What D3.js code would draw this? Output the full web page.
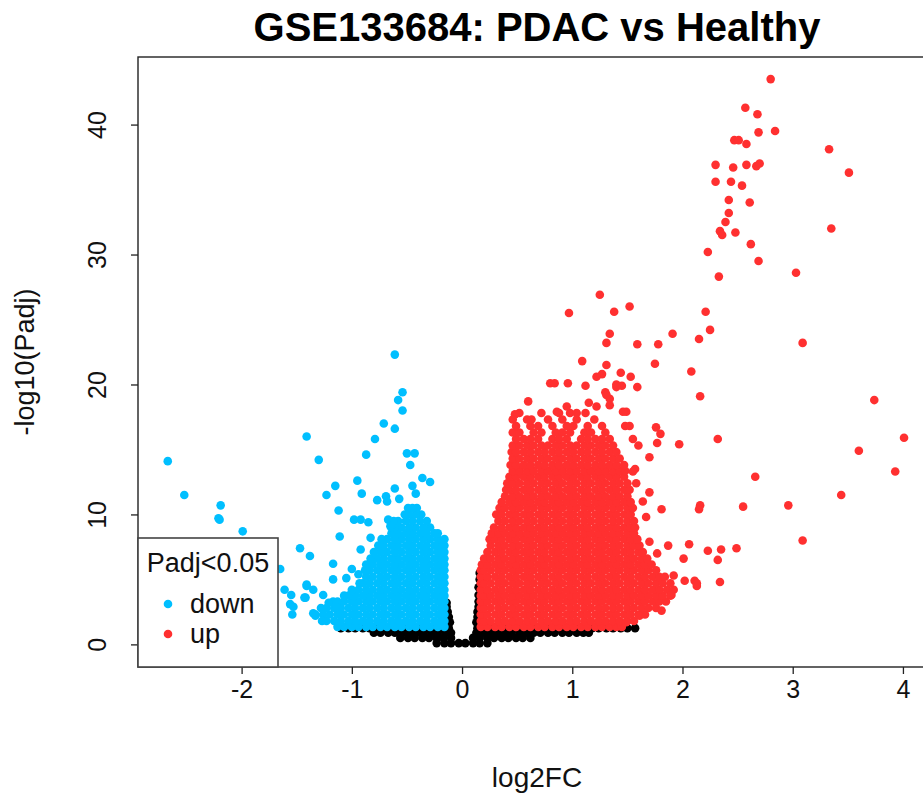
<!DOCTYPE html>
<html>
<head>
<meta charset="utf-8">
<script src="https://cdn.jsdelivr.net/npm/d3@7"></script>
<style>
  body { margin: 0; background: #fff; }
  svg { display: block; font-family: "Liberation Sans", Arial, Helvetica, sans-serif; }
</style>
</head>
<body>
<svg id="chart" width="923" height="800"></svg>
<script>
// ---- data ----
const title = "GSE133684: PDAC vs Healthy";
const xLabel = "log2FC";
const yLabel = "-log10(Padj)";
const xTicks = [-2, -1, 0, 1, 2, 3, 4];
const yTicks = [0, 10, 20, 30, 40];
const legendTitle = "Padj<0.05";
const legendItems = ["down", "up"];

// dense clouds: [ -log10(Padj), [log2FC in hundredths, ...] ]
const nsRows = [
  [0.1, [-23,-16,-10,-3,3,10,16,23]],
  [0.5, [-56,-49,-43,-36,-30,-23,-17,-10,10,16,23,29,36,42,49,55,62]],
  [0.9, [-80,-74,-67,-61,-54,-48,-41,-35,-28,-22,-15,-10,13,19,26,32,39,45,52,58,65,71,78,84,91,97,104,110,115]],
  [1.25, [-110,-103,-97,-90,-84,-77,-71,-64,-58,-51,-45,-38,-32,-25,-19,-12,14,20,27,33,40,46,53,59,66,72,79,85,92,98,105,111,118,124,131,137,144,150,157]]
];
// black genes on the arms of the V: [log2FC hundredths, -log10(Padj)]
const nsArms = [
  [-13,1.7],[-11,1.7],[-13,2.1],[-12,2.1],[-13,2.5],[-14,2.9],[-14,3.2],
  [13,1.7],[15,1.7],[14,2.1],[14,2.5],[15,2.9],[15,3.3],[15,3.8],[15,4.4],[16,5.0],[16,5.5]
];

const downRows = [
  [1.35, [-16,-22,-29,-35,-42,-48,-55,-61,-68,-74,-81,-87,-94,-100,-107,-113]],
  [1.8, [-16,-19,-25,-32,-38,-45,-51,-58,-64,-71,-77,-84,-90,-97,-103,-110,-116,-123]],
  [2.3, [-16,-22,-29,-35,-42,-48,-55,-61,-68,-74,-81,-87,-94,-100,-107,-113,-120,-126,-133]],
  [2.8, [-16,-19,-25,-32,-38,-45,-51,-58,-64,-71,-77,-84,-90,-97,-103,-110,-116,-123,-128]],
  [3.3, [-16,-22,-29,-35,-42,-48,-55,-61,-68,-74,-81,-87,-94,-100,-107,-113,-117]],
  [3.75, [-16,-19,-25,-32,-38,-45,-51,-58,-64,-71,-77,-84,-90,-97,-103,-107]],
  [4.2, [-16,-22,-29,-35,-42,-48,-55,-61,-68,-74,-81,-87,-94,-100]],
  [4.7, [-16,-19,-25,-32,-38,-45,-51,-58,-64,-71,-77,-84,-90,-93]],
  [5.2, [-16,-22,-29,-35,-42,-48,-55,-61,-68,-74,-81,-87]],
  [5.7, [-16,-19,-25,-32,-38,-45,-51,-58,-64,-71,-77,-84,-88]],
  [6.15, [-16,-22,-29,-35,-42,-48,-55,-61,-68,-74,-81,-87]],
  [6.6, [-16,-19,-25,-32,-38,-45,-51,-58,-64,-71,-77,-83]],
  [7.1, [-16,-22,-29,-35,-42,-48,-55,-61,-68,-74,-80]],
  [7.6, [-16,-19,-25,-32,-38,-45,-51,-58,-64,-71,-76]],
  [8.1, [-16,-22,-29,-35,-42,-48,-55,-61,-68,-73]],
  [8.55, [-22,-25,-32,-38,-45,-51,-58,-64]],
  [9.0, [-29,-35,-42,-48,-55,-61,-64]],
  [9.5, [-32,-38,-45,-51,-58,-62]],
  [10.0, [-37,-42,-48,-52]],
  [10.5, [-41,-45,-49]]
];

const upRows = [
  [1.35, [17,23,30,36,43,49,56,62,69,75,82,88,95,101,108,114,121,127,134,140,145]],
  [1.8, [17,20,26,33,39,46,52,59,65,72,78,85,91,98,104,111,117,124,130,137,143,150,156]],
  [2.3, [17,23,30,36,43,49,56,62,69,75,82,88,95,101,108,114,121,127,134,140,147,153,160,166]],
  [2.8, [17,20,26,33,39,46,52,59,65,72,78,85,91,98,104,111,117,124,130,137,143,150,156,163,169,176]],
  [3.3, [17,23,30,36,43,49,56,62,69,75,82,88,95,101,108,114,121,127,134,140,147,153,160,166,173,179,185]],
  [3.75, [17,20,26,33,39,46,52,59,65,72,78,85,91,98,104,111,117,124,130,137,143,150,156,163,169,176,182,189]],
  [4.2, [17,23,30,36,43,49,56,62,69,75,82,88,95,101,108,114,121,127,134,140,147,153,160,166,173,179,186,192]],
  [4.7, [17,20,26,33,39,46,52,59,65,72,78,85,91,98,104,111,117,124,130,137,143,150,156,163,169,176,182,189]],
  [5.2, [17,23,30,36,43,49,56,62,69,75,82,88,95,101,108,114,121,127,134,140,147,153,160,166,173,179,184]],
  [5.7, [17,20,26,33,39,46,52,59,65,72,78,85,91,98,104,111,117,124,130,137,143,150,156,163,169,176]],
  [6.15, [18,23,30,36,43,49,56,62,69,75,82,88,95,101,108,114,121,127,134,140,147,153,160,166,172]],
  [6.6, [20,26,33,39,46,52,59,65,72,78,85,91,98,104,111,117,124,130,137,143,150,156,163,168]],
  [7.1, [23,30,36,43,49,56,62,69,75,82,88,95,101,108,114,121,127,134,140,147,153,160,164]],
  [7.6, [26,33,39,46,52,59,65,72,78,85,91,98,104,111,117,124,130,137,143,150,156,161]],
  [8.1, [25,30,36,43,49,56,62,69,75,82,88,95,101,108,114,121,127,134,140,147,153,159]],
  [8.55, [27,33,39,46,52,59,65,72,78,85,91,98,104,111,117,124,130,137,143,150,156]],
  [9.0, [29,36,43,49,56,62,69,75,82,88,95,101,108,114,121,127,134,140,147,153,157]],
  [9.5, [33,39,46,52,59,65,72,78,85,91,98,104,111,117,124,130,137,143,150,156]],
  [10.0, [31,36,43,49,56,62,69,75,82,88,95,101,108,114,121,127,134,140,147,153]],
  [10.5, [34,39,46,52,59,65,72,78,85,91,98,104,111,117,124,130,137,143,150,155]],
  [10.95, [36,43,49,56,62,69,75,82,88,95,101,108,114,121,127,134,140,147,153]],
  [11.4, [39,46,52,59,65,72,78,85,91,98,104,111,117,124,130,137,143,150]],
  [11.9, [40,43,49,56,62,69,75,82,88,95,101,108,114,121,127,134,140,147,152]],
  [12.4, [41,46,52,59,65,72,78,85,91,98,104,111,117,124,130,137,143,150]],
  [12.9, [43,49,56,62,69,75,82,88,95,101,108,114,121,127,134,140,147]],
  [13.35, [46,52,59,65,72,78,85,91,98,104,111,117,124,130,137,143,148]],
  [13.8, [44,49,56,62,69,75,82,88,95,101,108,114,121,127,134,140,147]],
  [14.3, [46,52,59,65,72,78,85,91,98,104,111,117,124,130,137,143]],
  [14.8, [45,49,56,62,69,75,82,88,95,101,108,114,121,127,134,140]],
  [15.3, [46,52,59,65,72,78,85,91,98,104,111,117,124,130,137]],
  [15.8, [49,56,62,69,82,88,95,108,114,121,127,134]],
  [16.3, [46,52,65,72,85,91,98,111,117,130]],
  [16.8, [49,62,69,82,95,101,114,127]],
  [17.3, [46,59,78,91,104,120]],
  [17.8, [52,72,88,98,112]]
];

// single genes outside the dense clouds: [log2FC, -log10(Padj)]
const downPoints = [
  [-0.61,22.3],[-0.54,19.4],[-0.58,18.8],[-0.54,18.0],[-0.71,17.0],[-0.61,16.6],[-0.79,15.8],
  [-1.41,16.0],[-1.30,14.2],[-0.87,14.6],[-0.50,14.7],[-0.43,14.7],[-0.47,13.8],[-0.95,12.6],
  [-1.15,12.2],[-1.23,11.5],[-0.91,11.6],[-0.61,12.0],[-0.36,12.8],[-0.29,12.5],[-0.45,12.2],
  [-0.42,11.6],[-1.12,10.3],[-0.77,11.1],[-0.69,11.4],[-0.68,11.0],[-0.57,11.2],[-0.98,9.6],
  [-0.92,9.6],[-0.85,9.4],[-0.67,9.6],[-0.65,9.1],[-1.11,8.3],[-0.83,8.2],[-1.47,7.4],
  [-1.38,6.8],[-0.92,7.3],[-1.17,6.2],[-1.00,5.8],[-1.05,5.1],[-0.94,5.4],[-1.17,5.0],
  [-1.41,4.5],[-1.35,4.2],[-1.42,3.6],[-1.26,3.8],[-1.14,2.9],[-1.21,3.2],[-1.35,2.4],
  [-1.27,1.8],[-1.33,2.2],[-2.67,14.1],[-2.52,11.5],[-2.19,10.7],[-2.21,9.7],[-2.20,9.6],
  [-1.99,8.7],[-1.65,5.8],[-1.61,4.2],[-1.55,3.8],[-1.56,3.1],[-1.53,2.9],[-1.54,2.3],
  [-1.43,3.6],[-1.41,4.6],[-1.95,7.4],[-1.80,6.3]
];

const upPoints = [
  [2.80,43.5],[2.57,41.3],[2.68,40.8],[2.69,39.4],[2.84,39.5],[2.47,38.8],[2.51,38.8],[2.58,38.5],
  [3.33,38.1],[2.30,36.9],[2.46,36.7],[2.58,36.9],[2.67,36.8],[2.70,37.0],[3.51,36.3],[2.30,35.6],
  [2.44,35.6],[2.54,35.3],[2.42,34.2],[2.61,34.0],[2.42,33.2],[2.39,32.5],[2.34,31.8],[2.36,31.5],
  [2.48,31.7],[3.35,32.0],[2.62,30.8],[2.23,30.2],[2.69,29.5],[3.03,28.6],[2.33,28.3],
  [2.21,25.6],[2.25,24.2],[2.15,23.5],[3.09,23.2],[2.08,21.0],[2.16,19.1],[3.74,18.8],[4.01,15.9],
  [2.32,15.8],[1.97,15.4],[3.60,14.9],[3.93,13.3],[2.66,12.9],[3.44,11.5],[2.16,10.7],[2.15,10.4],
  [2.55,10.6],[2.96,10.7],[3.09,8.0],[2.06,7.7],[2.23,7.2],[2.35,7.3],[2.49,7.4],[2.32,6.5],
  [2.01,6.6],[2.02,4.9],[2.11,4.9],[2.13,4.5],[2.34,4.8],
  [1.25,26.9],[1.52,26.0],[1.38,25.6],[1.34,23.9],[1.91,23.9],[1.31,23.2],[1.59,23.1],[1.78,23.1],
  [1.75,21.6],[1.31,21.5],[1.27,20.8],[1.44,20.9],[1.53,20.6],[1.59,19.8],[1.40,19.8],[1.45,19.9],
  [1.30,19.4],[1.34,18.9],[1.34,18.4],[1.49,17.9],[1.48,16.8],[1.76,16.7],[1.80,16.2],[1.77,15.5],
  [1.55,15.8],[1.60,15.3],[1.70,14.4],[1.57,13.5],[1.55,13.3],[1.58,12.4],[1.70,11.7],[1.64,11.0],
  [1.81,10.4],[1.67,9.8],[1.70,7.9],[1.87,7.6],[1.77,7.0],[1.92,5.3],[2.13,4.7],[1.90,3.8],
  [1.81,2.6],[1.61,2.2],[1.49,1.7],
  [0.97,25.5],[1.09,21.8],[1.22,20.6],[0.80,20.1],[0.84,20.1],[0.96,20.1],[1.12,19.9],[0.60,18.7],
  [0.48,17.7],[0.63,17.3],[0.86,17.9],[0.95,18.3],[1.04,17.8],[1.15,18.6],[1.22,18.3],[1.40,20.0],
  [1.31,19.2],[1.46,17.9],[1.52,16.8]
];

const colors = { ns: "#000000", down: "#00BFFF", up: "#FF3030" };

// ---- chart ----
const svg = d3.select("#chart");
const plot = { left: 138, right: 936, top: 57, bottom: 667 };
const r = 4.3;

const x = d3.scaleLinear().domain([-2.94, 4.30]).range([plot.left, plot.right]);
const y = d3.scaleLinear().domain([-1.74, 45.2]).range([plot.bottom, plot.top]);

function fromRows(rows) {
  let out = [];
  rows.forEach(([py, xs]) => xs.forEach(v => out.push([v / 100, py])));
  return out;
}

const layers = [
  { pts: fromRows(nsRows).concat(nsArms.map(d => [d[0] / 100, d[1]])), col: colors.ns },
  { pts: fromRows(downRows).concat(downPoints), col: colors.down },
  { pts: fromRows(upRows).concat(upPoints), col: colors.up }
];

svg.append("defs").append("clipPath").attr("id", "clip")
  .append("rect")
  .attr("x", plot.left).attr("y", plot.top)
  .attr("width", plot.right - plot.left).attr("height", plot.bottom - plot.top);

const pts = svg.append("g").attr("clip-path", "url(#clip)");
layers.forEach(l => {
  pts.append("g").attr("fill", l.col)
    .selectAll("circle")
    .data(l.pts).enter()
    .append("circle")
    .attr("cx", d => x(d[0]))
    .attr("cy", d => y(d[1]))
    .attr("r", r);
});

/* Axes */
const xAxis = d3.axisBottom(x).tickValues(xTicks).tickSize(7).tickPadding(6).tickFormat(d => String(d));
const yAxis = d3.axisLeft(y).tickValues(yTicks).tickSize(7).tickFormat(d => String(d));

const gx = svg.append("g")
  .attr("transform", `translate(0, ${plot.bottom})`)
  .call(xAxis);
gx.select(".domain").remove();
gx.selectAll("line").attr("stroke", "#222").attr("stroke-width", 1.3);
gx.selectAll("text").attr("font-size", 25).attr("fill", "#111")
  .attr("font-family", "Liberation Sans, Arial, sans-serif");

const gy = svg.append("g")
  .attr("transform", `translate(${plot.left}, 0)`)
  .call(yAxis);
gy.select(".domain").remove();
gy.selectAll("line").attr("stroke", "#222").attr("stroke-width", 1.3);
gy.selectAll("text")
  .attr("font-size", 25).attr("fill", "#111")
  .attr("font-family", "Liberation Sans, Arial, sans-serif")
  .attr("text-anchor", "middle")
  .attr("transform", "rotate(-90)")
  .attr("x", 0).attr("y", -32).attr("dy", 0);

// box
svg.append("rect")
  .attr("x", plot.left).attr("y", plot.top)
  .attr("width", plot.right - plot.left).attr("height", plot.bottom - plot.top)
  .attr("fill", "none").attr("stroke", "#222").attr("stroke-width", 1.4);

// titles
svg.append("text")
  .attr("x", (plot.left + plot.right) / 2).attr("y", 41)
  .attr("text-anchor", "middle")
  .attr("font-size", 40).attr("font-weight", "bold")
  .text(title);

svg.append("text")
  .attr("x", (plot.left + plot.right) / 2).attr("y", 787)
  .attr("text-anchor", "middle")
  .attr("font-size", 28).attr("fill", "#111")
  .text(xLabel);

svg.append("text")
  .attr("transform", `translate(34, ${(plot.top + plot.bottom) / 2}) rotate(-90)`)
  .attr("text-anchor", "middle")
  .attr("font-size", 27).attr("fill", "#111")
  .text(yLabel);

/* Legend */
const lg = svg.append("g");
lg.append("rect")
  .attr("x", plot.left).attr("y", 538)
  .attr("width", 140).attr("height", plot.bottom - 538)
  .attr("fill", "#fff").attr("stroke", "#444").attr("stroke-width", 1.6);
lg.append("text")
  .attr("x", plot.left + 70).attr("y", 572)
  .attr("text-anchor", "middle")
  .attr("font-size", 27).attr("fill", "#111")
  .text(legendTitle);
legendItems.forEach((name, i) => {
  lg.append("circle")
    .attr("cx", 168).attr("cy", 604 + i * 30)
    .attr("r", r).attr("fill", colors[name]);
  lg.append("text")
    .attr("x", 190).attr("y", 613 + i * 30)
    .attr("font-size", 27).attr("fill", "#111")
    .text(name);
});
</script>
</body>
</html>
